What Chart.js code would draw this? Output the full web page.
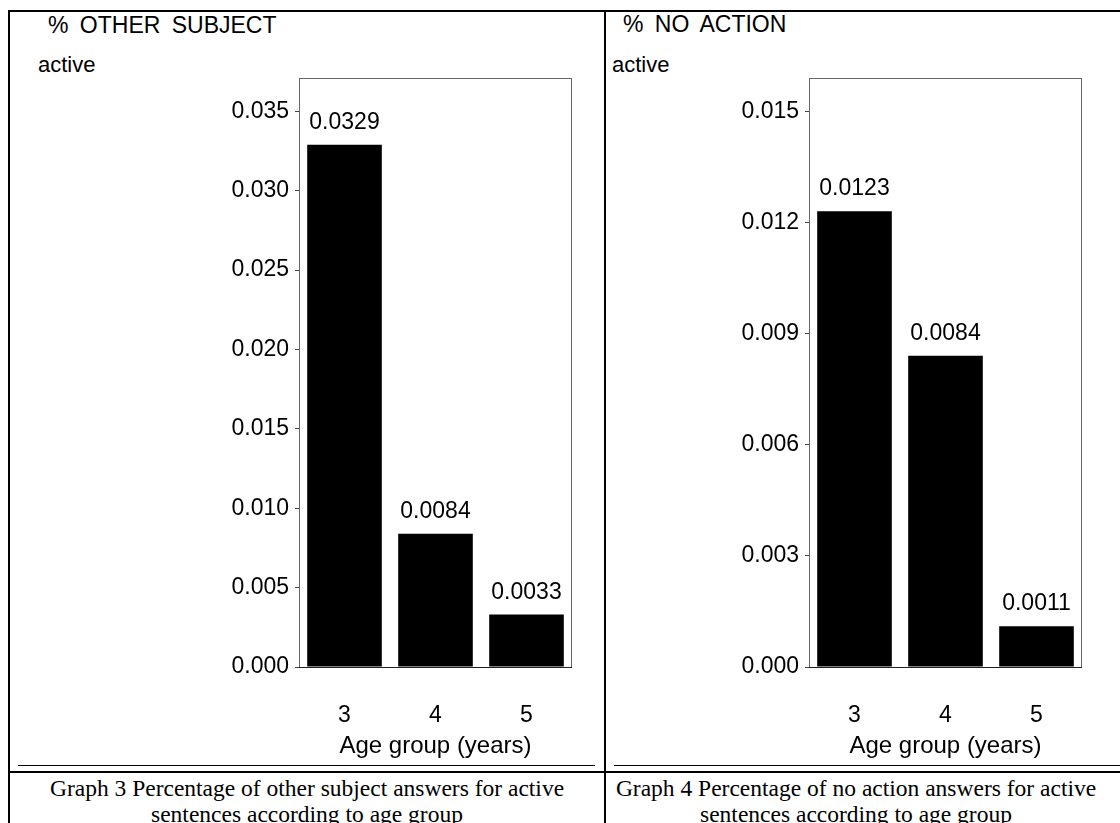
<!DOCTYPE html>
<html>
<head>
<meta charset="utf-8">
<title>Graphs 3 and 4</title>
<script src="https://cdn.jsdelivr.net/npm/chart.js@4.4.0/dist/chart.umd.min.js"></script>
<style>
  html, body { margin: 0; padding: 0; background: #fff; }
  body { width: 1120px; height: 823px; position: relative; overflow: hidden; }
  .rule { position: absolute; background: #000; }
  .panel { position: absolute; top: 12px; height: 752px; }
  .head { position: absolute; font-family: "Liberation Sans", Arial, sans-serif; color: #000; white-space: nowrap; line-height: 1; }
  .title { font-size: 23px; word-spacing: 5px; }
  .sub { font-size: 22px; }
  .caption { position: absolute; top: 775px; font-family: "Liberation Serif", "Times New Roman", serif;
             font-size: 23.5px; line-height: 26px; text-align: center; color: #000; white-space: nowrap; }
</style>
</head>
<body>

<!-- table frame -->
<div class="rule" style="left:8px; top:10px; width:2px; height:813px;"></div>
<div class="rule" style="left:8px; top:10px; width:1112px; height:2px;"></div>
<div class="rule" style="left:604px; top:10px; width:2px; height:813px;"></div>
<div class="rule" style="left:18px; top:765px; width:577px; height:1px;"></div>
<div class="rule" style="left:614px; top:765px; width:506px; height:1px;"></div>
<div class="rule" style="left:8px; top:771px; width:1112px; height:2px;"></div>

<div class="head title" style="left:48px; top:14px;">% OTHER SUBJECT</div>
<div class="head sub" style="left:38px; top:54px;">active</div>
<div class="head title" style="left:623px; top:13px;">% NO ACTION</div>
<div class="head sub" style="left:612px; top:54px;">active</div>

<div class="panel" style="left:10px; width:594px;"><canvas id="otherChart" width="594" height="752"></canvas></div>
<div class="panel" style="left:606px; width:514px;"><canvas id="noActionChart" width="514" height="752"></canvas></div>

<div class="caption" style="left:10px; width:594px;">Graph 3 Percentage of other subject answers for active<br>sentences according to age group</div>
<div class="caption" style="left:606px; width:500px;">Graph 4 Percentage of no action answers for active<br>sentences according to age group</div>

<script>
// data
var ageGroups = ['3', '4', '5'];
var otherSubject = [0.0329, 0.0084, 0.0033];
var noAction = [0.0123, 0.0084, 0.0011];

// y axis tick labels
var otherTicks = [0.000, 0.005, 0.010, 0.015, 0.020, 0.025, 0.030, 0.035];
var noActionTicks = [0.000, 0.003, 0.006, 0.009, 0.012, 0.015];

Chart.defaults.font.family = '"Liberation Sans", Arial, sans-serif';
Chart.defaults.color = '#000';

// frame round the plot area and the value above each bar
var boxAndValues = {
    id: 'boxAndValues',
    afterDatasetsDraw: function (chart) {
        var ctx = chart.ctx;
        var a = chart.chartArea;
        ctx.save();
        ctx.strokeStyle = '#666';
        ctx.lineWidth = 1;
        ctx.strokeRect(Math.round(a.left) + 0.5, Math.round(a.top) + 0.5,
            Math.round(a.right - a.left) - 1, Math.round(a.bottom - a.top));
        ctx.strokeStyle = '#222';
        ctx.beginPath();
        ctx.moveTo(a.left, Math.round(a.bottom) + 0.5);
        ctx.lineTo(a.right, Math.round(a.bottom) + 0.5);
        ctx.stroke();

        ctx.font = '23px "Liberation Sans", Arial, sans-serif';
        ctx.fillStyle = '#000';
        ctx.textAlign = 'center';
        ctx.textBaseline = 'alphabetic';
        var values = chart.data.datasets[0].data;
        chart.getDatasetMeta(0).data.forEach(function (bar, i) {
            ctx.fillText(values[i].toFixed(4), bar.x, bar.y - 16);
        });
        ctx.restore();
    }
};

function makeChart(id, values, ticks, yMax, yWidth, padRight) {
    return new Chart(document.getElementById(id), {
        type: 'bar',
        data: {
            labels: ageGroups,
            datasets: [{
                data: values,
                backgroundColor: '#000',
                borderWidth: 0,
                barPercentage: 0.82,
                categoryPercentage: 1.0
            }]
        },
        options: {
            responsive: false,
            animation: false,
            layout: { padding: { left: 0, right: padRight, top: 66, bottom: 0 } },
            plugins: {
                legend: { display: false },
                tooltip: { enabled: false }
            },
            scales: {
                x: {
                    grid: { display: false, drawTicks: false },
                    border: { display: false },
                    ticks: { font: { size: 23 }, padding: 35, color: '#000' },
                    title: {
                        display: true,
                        text: 'Age group (years)',
                        font: { size: 24, lineHeight: 1 },
                        padding: { top: 0, bottom: 6 },
                        color: '#000'
                    },
                    afterFit: function (scale) { scale.height = 97; }
                },
                y: {
                    min: 0,
                    max: yMax,
                    grid: { drawOnChartArea: false, drawTicks: true, tickLength: 4, color: '#444' },
                    border: { display: false },
                    ticks: {
                        font: { size: 23 },
                        padding: 6,
                        color: '#000',
                        includeBounds: false,
                        callback: function (v) { return Number(v).toFixed(3); }
                    },
                    afterBuildTicks: function (scale) {
                        scale.ticks = ticks.map(function (v) { return { value: v }; });
                    },
                    afterFit: function (scale) { scale.width = yWidth; }
                }
            }
        },
        plugins: [boxAndValues]
    });
}

var otherChart = makeChart('otherChart', otherSubject, otherTicks, 0.0371, 289, 32);
var noActionChart = makeChart('noActionChart', noAction, noActionTicks, 0.0159, 203, 38);
</script>
</body>
</html>
